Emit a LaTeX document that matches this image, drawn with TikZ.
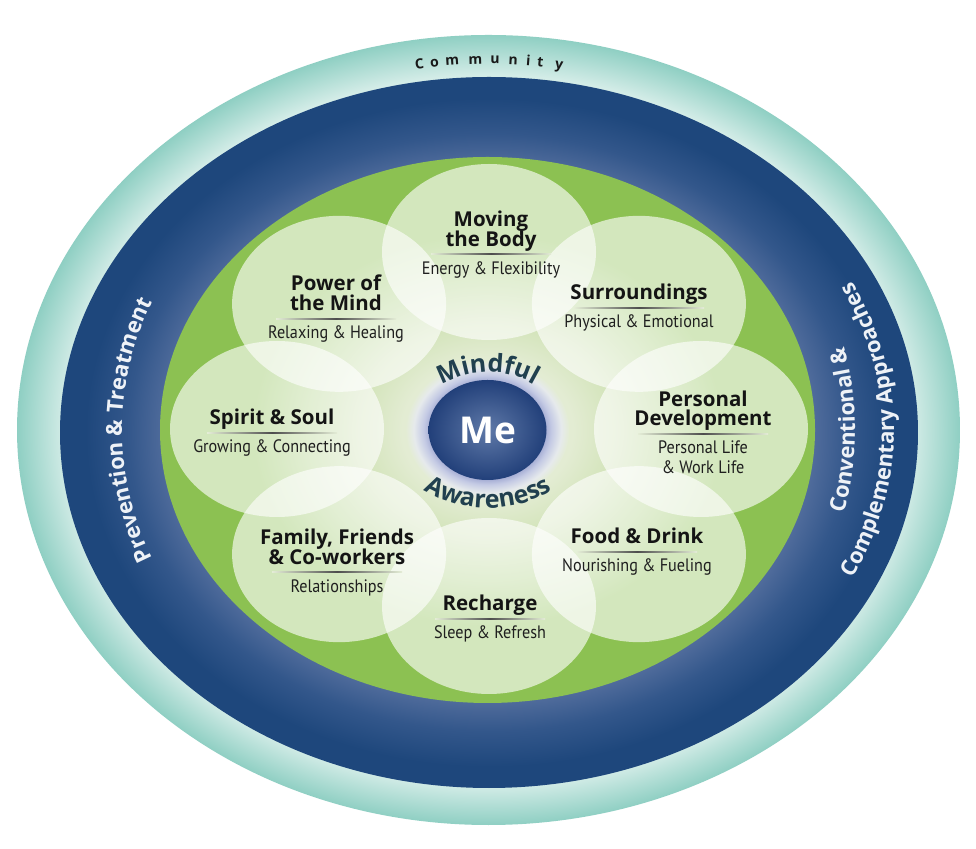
\documentclass[tikz,border=0pt]{standalone}
\usepackage{fontspec}
\setmainfont{Open Sans}
\newfontfamily\subfont{PT Sans}[FakeStretch=0.9]
\usetikzlibrary{decorations.text}

\definecolor{tealA}{HTML}{D3ECE7}
\definecolor{tealB}{HTML}{8FCFC3}
\definecolor{blueA}{HTML}{56709F}
\definecolor{blueB}{HTML}{33578B}
\definecolor{blueC}{HTML}{1E477C}
\definecolor{grA}{HTML}{E3ECD3}
\definecolor{grB}{HTML}{D3E4BA}
\definecolor{grC}{HTML}{B2D48A}
\definecolor{grD}{HTML}{8CC152}
\definecolor{meA}{HTML}{5F79A8}
\definecolor{meB}{HTML}{22407A}
\definecolor{glA}{HTML}{A3ABD3}
\definecolor{glB}{HTML}{C4CAE4}
\definecolor{glC}{HTML}{E6EAEC}
\definecolor{mindc}{HTML}{21404F}
\definecolor{bandtext}{HTML}{EEF2F7}
\definecolor{sepbg}{HTML}{E4EDD6}

\pgfdeclareradialshading{tealshade}{\pgfpointorigin}{color(0bp)=(tealA); color(22.5bp)=(tealA); color(25bp)=(tealB); color(50bp)=(tealB)}
\pgfdeclareradialshading{blueshade}{\pgfpointorigin}{color(0bp)=(blueA); color(18.5bp)=(blueA); color(21bp)=(blueB); color(23.5bp)=(blueC); color(50bp)=(blueC)}
\pgfdeclareradialshading{greenshade}{\pgfpointorigin}{color(0bp)=(grA); color(6.5bp)=(grA); color(10bp)=(grB); color(14bp)=(grC); color(18bp)=(grD); color(50bp)=(grD)}
\pgfdeclareradialshading{meshade}{\pgfpointorigin}{color(0bp)=(meA); color(25bp)=(meB); color(50bp)=(meB)}
\pgfdeclareradialshading{glowshade}{\pgfpointorigin}{color(0bp)=(glA); color(17.5bp)=(glA); color(19.5bp)=(glB); color(22.5bp)=(glC); color(25bp)=(grA); color(50bp)=(grA)}

\begin{document}
\begin{tikzpicture}[x=1pt,y=1pt,
  petal/.style={fill=white, fill opacity=0.62},
  ttl/.style={anchor=base, inner sep=0pt, text=black!92, font=\bfseries\fontsize{20.5}{20.5}\selectfont},
  subt/.style={anchor=base, inner sep=0pt, text=black!88, font=\subfont\fontsize{18}{18}\selectfont},
  sepline/.style={left color=sepbg, right color=sepbg, middle color=black!70},
  commchar/.style={anchor=base, inner sep=0pt, text=black!90, font=\bfseries\fontsize{14}{14}\selectfont}]

\fill[white] (0,0) rectangle (976,848);
\useasboundingbox (0,0) rectangle (976,848);

% rings
\shade[shading=tealshade] (488.5,418) ellipse [x radius=471.5, y radius=395];
\shade[shading=blueshade] (489,415.5) ellipse [x radius=429, y radius=355.5];
\shade[shading=greenshade] (487.5,418) ellipse [x radius=327.5, y radius=273];

% petals
\foreach \a in {0,45,...,315}
  \fill[petal] ([shift={(489,419)}]\a:212 and 177) ellipse [x radius=107, y radius=88];

% centre
\shade[shading=glowshade] (487.5,418) ellipse [x radius=82, y radius=70];
\shade[shading=meshade] (487.5,418) ellipse [x radius=59, y radius=50];
\node[text=white, font=\bfseries\fontsize{37}{37}\selectfont] (me) at (487.5,418) {Me};

\path[decorate, decoration={text along path, text align=center, text color=mindc,
  text={|\bfseries\fontsize{25}{25}\selectfont|Mindful}}]
  ([shift={(488,386)}]135:90) arc [start angle=135, end angle=45, radius=90];
\path[decorate, decoration={text along path, text align=center, text color=mindc,
  text={|\bfseries\fontsize{25}{25}\selectfont|Awareness}}]
  ([shift={(488,465)}]230:125) arc [start angle=230, end angle=310, radius=125];

% band texts
\path[decorate, decoration={text along path, text align=center, text color=bandtext,
  text={|\bfseries\fontsize{22}{22}\selectfont|Prevention {\&} Treatment}}]
  ([shift={(488,418)}]225:366 and 318) arc [start angle=225, end angle=135, x radius=366, y radius=318];
\path[decorate, decoration={text along path, text align=center, text color=bandtext,
  text={|\bfseries\fontsize{22}{22}\selectfont|Conventional {\&}}}]
  ([shift={(488,418)}]-50:367 and 340) arc [start angle=-50, end angle=50, x radius=367, y radius=340];
\path[decorate, decoration={text along path, text align=center, text color=bandtext,
  text={|\bfseries\fontsize{22}{22}\selectfont|Complementary Approaches}}]
  ([shift={(488,418)}]-50:406 and 336) arc [start angle=-50, end angle=50, x radius=406, y radius=336];

% Community
\foreach \ch/\dx [count=\i] in {C/-68, o/-53, m/-35.5, m/-12.5, u/7, n/25, i/40, t/52, y/70.5} {
  \pgfmathsetmacro\t{acos(\dx/435)}
  \node[commchar, rotate={(\t-90)*0.84}] (comm\i) at ([shift={(488,418)}]\t:435 and 366) {\ch};
}

% Moving the Body
\node[ttl] (mv1) at (491,621) {Moving};
\node[ttl] (mv2) at (491,601) {the Body};
\shade[sepline] (431,593.4) rectangle (551,594.6);
\node[subt] (mv3) at (491,573) {Energy \& Flexibility};

% Power of the Mind
\node[ttl] (pm1) at (336,557) {Power of};
\node[ttl] (pm2) at (336,537) {the Mind};
\shade[sepline] (276,528.4) rectangle (396,529.6);
\node[subt] (pm3) at (336,509) {Relaxing \& Healing};

% Surroundings
\node[ttl] (su1) at (639,548) {Surroundings};
\shade[sepline] (574,539.4) rectangle (704,540.6);
\node[subt] (su2) at (639,520) {Physical \& Emotional};

% Spirit & Soul
\node[ttl] (ss1) at (272,423) {Spirit \& Soul};
\shade[sepline] (207,414.4) rectangle (337,415.6);
\node[subt] (ss2) at (272,395) {Growing \& Connecting};

% Personal Development
\node[ttl] (pd1) at (703,441) {Personal};
\node[ttl] (pd2) at (703,422) {Development};
\shade[sepline] (638,413.4) rectangle (768,414.6);
\node[subt] (pd3) at (703,394) {Personal Life};
\node[subt] (pd4) at (703,374) {\& Work Life};

% Family
\node[ttl] (ff1) at (337,303) {Family, Friends};
\node[ttl] (ff2) at (337,283) {\& Co-workers};
\shade[sepline] (272,275.4) rectangle (402,276.6);
\node[subt] (ff3) at (337,255) {Relationships};

% Food & Drink
\node[ttl] (fd1) at (637,304) {Food \& Drink};
\shade[sepline] (577,295.4) rectangle (697,296.6);
\node[subt] (fd2) at (637,276) {Nourishing \& Fueling};

% Recharge
\node[ttl] (rc1) at (490,237) {Recharge};
\shade[sepline] (435,228.4) rectangle (545,229.6);
\node[subt] (rc2) at (490,209) {Sleep \& Refresh};

\end{tikzpicture}
\end{document}
